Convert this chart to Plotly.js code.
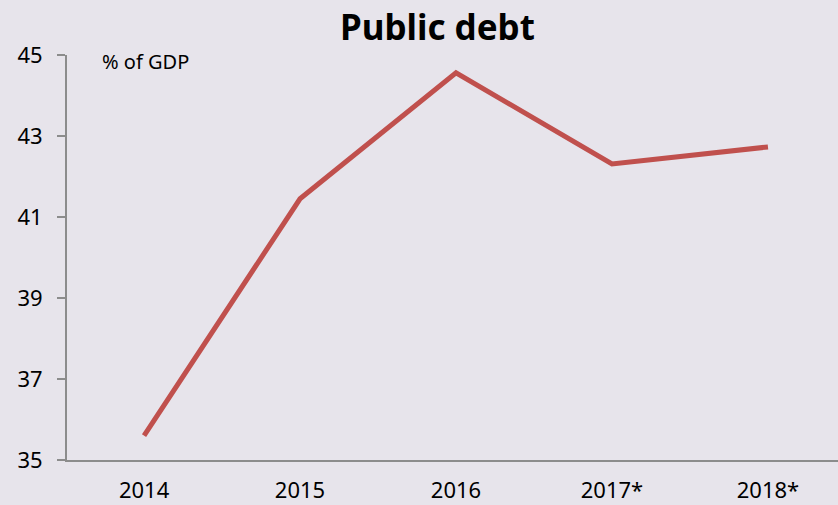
<!DOCTYPE html>
<html>
<head>
<meta charset="utf-8">
<script src="https://cdn.plot.ly/plotly-3.0.1.min.js"></script>
<style>html,body{margin:0;padding:0;background:#E7E4EB;}#chart{width:838px;height:505px;}</style>
</head>
<body>
<div id="chart"></div>
<script>
var years = ["2014", "2015", "2016", "2017*", "2018*"];
var debt = [35.6, 41.45, 44.56, 42.31, 42.73];
var yTicks = [35, 37, 39, 41, 43, 45];

var trace = {
  x: years, y: debt, type: "scatter", mode: "lines",
  line: {color: "#C0504D", width: 5},
  hoverinfo: "skip"
};
var layout = {
  width: 838, height: 505,
  paper_bgcolor: "#E7E4EB", plot_bgcolor: "#E7E4EB",
  margin: {l: 67, r: 0, t: 55, b: 45},
  showlegend: false,
  font: {family: "Noto Sans, Open Sans, sans-serif", color: "#000"},
  title: {text: "<b>Public debt</b>", x: 0.522, xref: "container", y: 0.945, yanchor: "middle",
          font: {size: 35, family: "Noto Sans, sans-serif", color: "#000"}},
  xaxis: {type: "category", range: [-0.494, 4.449], showgrid: false, zeroline: false,
          showline: true, linecolor: "#8C8C8C", linewidth: 2,
          ticks: "outside", ticklen: 10, tickcolor: "rgba(0,0,0,0)",
          tickfont: {size: 22, color: "#000"}},
  yaxis: {range: [35, 45], tickvals: yTicks, showgrid: false, zeroline: false,
          showline: true, linecolor: "#8C8C8C", linewidth: 2,
          ticks: "outside", ticklen: 8, tickcolor: "#8C8C8C", tickwidth: 2,
          ticklabelstandoff: 10,
          tickfont: {size: 22, color: "#000"}},
  annotations: [{text: "% of GDP", xref: "paper", yref: "paper", x: 0.043, y: 0.983,
                 xanchor: "left", yanchor: "middle", showarrow: false,
                 font: {size: 20, color: "#000"}}]
};
Plotly.newPlot("chart", [trace], layout, {displayModeBar: false, staticPlot: true});
</script>
</body>
</html>
